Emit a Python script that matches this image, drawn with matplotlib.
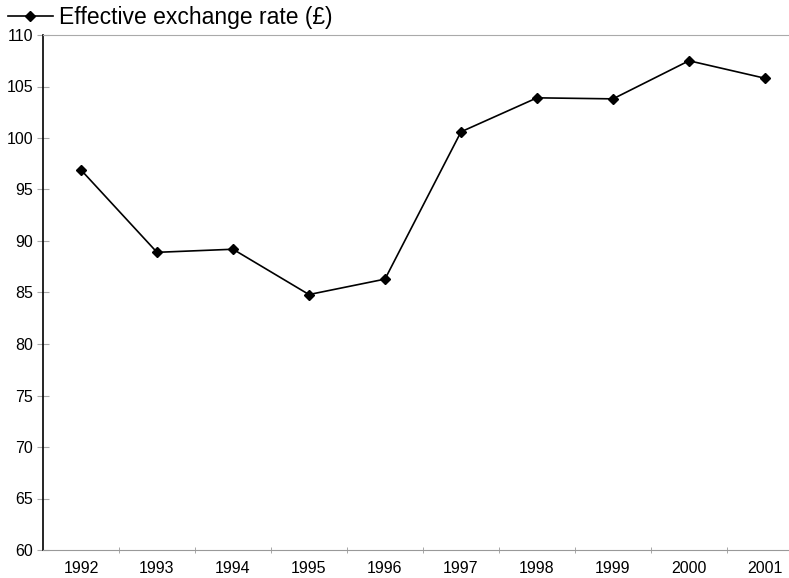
import matplotlib.pyplot as plt
import numpy as np

years = ["1992", "1993", "1994", "1995", "1996", "1997", "1998", "1999", "2000", "2001"]
rate = [96.9, 88.9, 89.2, 84.8, 86.3, 100.6, 103.9, 103.8, 107.5, 105.8]

plt.rcParams['font.family'] = ['Liberation Sans', 'DejaVu Sans']

fig = plt.figure(figsize=(7.89, 5.78), dpi=100)
# plot area runs off the right edge of the figure
ax = fig.add_axes([43 / 789, 1 - 550 / 578, 760 / 789, 515 / 578])

x = np.arange(len(years))
line, = ax.plot(x, rate, color='black', linewidth=1.2, marker='D', markersize=5.5,
                label="Effective exchange rate (£)")

ax.set_xlim(-0.5, len(years) - 0.5)
ax.set_ylim(60, 110)
ax.set_yticks(np.arange(60, 111, 5))
ax.set_xticks(x)
ax.set_xticklabels(years)
ax.set_xticks(np.arange(0.5, len(years) - 0.5, 1), minor=True)

ax.tick_params(axis='x', which='major', length=0, pad=8, labelsize=11.5)
ax.tick_params(axis='x', which='minor', length=5, direction='inout', color='#999999')
ax.tick_params(axis='y', length=8, direction='inout', color='#aaaaaa', width=0.8,
               pad=3, labelsize=11.5)

ax.spines['right'].set_visible(False)
ax.spines['top'].set_color('#aaaaaa')
ax.spines['top'].set_linestyle((0, (3, 1)))
ax.spines['bottom'].set_color('#999999')
ax.spines['left'].set_color('black')
ax.spines['left'].set_linewidth(1.2)

fig.legend(handles=[line], loc='upper left', bbox_to_anchor=(-0.005, 1.01),
           frameon=False, fontsize=16.5, handlelength=2.0, handletextpad=0.25,
           borderaxespad=0.1)

fig.savefig("out.png", dpi=100)
